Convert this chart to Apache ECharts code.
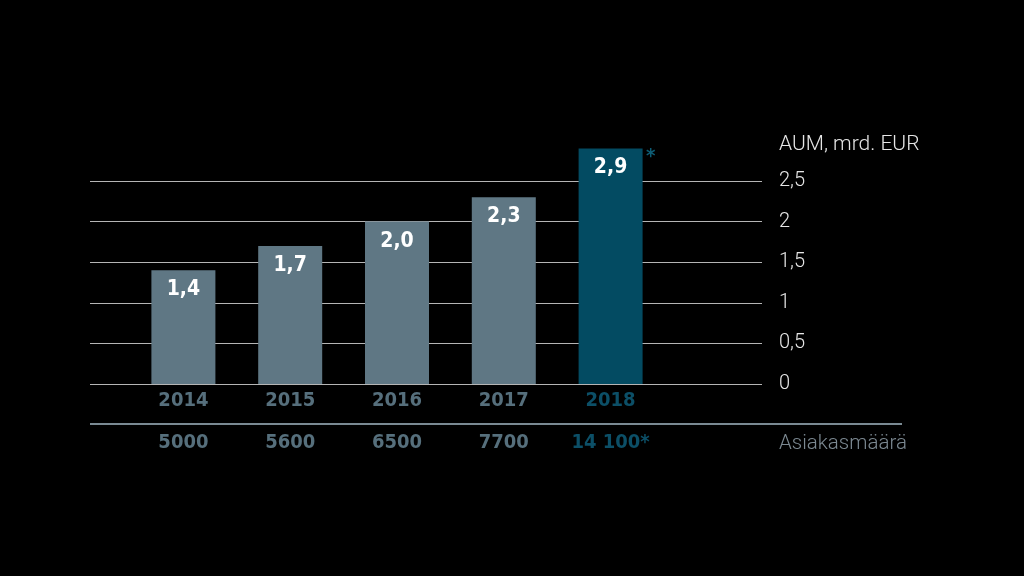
<!DOCTYPE html>
<html><head><meta charset="utf-8">
<script src="https://cdn.jsdelivr.net/npm/echarts@6/dist/echarts.min.js"></script>
<style>html,body{margin:0;padding:0;background:#000;}#c{width:1024px;height:576px;}</style>
</head><body><div id="c"></div>
<script>
const years = ['2014', '2015', '2016', '2017', '2018'];
const aum = [1.4, 1.7, 2.0, 2.3, 2.9];
const customers = ['5000', '5600', '6500', '7700', '14 100*'];
const yTicks = { min: 0, max: 2.5, interval: 0.5 };
const highlightIndex = 4;

const GREY = '#5f7784';
const TEAL = '#034b62';
const COND = '"DejaVu Sans Condensed", "Liberation Sans Narrow", sans-serif';
const LIGHT = 'Roboto, "Helvetica Neue", sans-serif';

const chart = echarts.init(document.getElementById('c'));
const fmt = v => String(v).replace('.', ',');

chart.setOption({
  backgroundColor: '#000',
  animation: false,
  grid: [
    { left: 90, right: 262, top: 181, bottom: 192 },
    { left: 130, right: 360, top: 140.4, bottom: 192 }
  ],
  xAxis: [
    { gridIndex: 0, type: 'value', show: false, min: 0, max: 1 },
    {
      gridIndex: 1, type: 'category', data: years,
      axisLine: { show: false }, axisTick: { show: false },
      axisLabel: {
        margin: 5,
        formatter: (v, i) => {
          const k = i === highlightIndex ? 'h' : 'n';
          return '{y' + k + '|' + v + '}\n{c' + k + '|' + customers[i] + '}';
        },
        rich: {
          yn: { color: '#566f7c', fontFamily: COND, fontWeight: 'bold', fontSize: 20, lineHeight: 24 },
          yh: { color: '#0c4f67', fontFamily: COND, fontWeight: 'bold', fontSize: 20, lineHeight: 24 },
          cn: { color: '#566f7c', fontFamily: COND, fontWeight: 'bold', fontSize: 20, lineHeight: 60 },
          ch: { color: '#0c4f67', fontFamily: COND, fontWeight: 'bold', fontSize: 20, lineHeight: 60 }
        }
      }
    }
  ],
  yAxis: [
    {
      gridIndex: 0, type: 'value', position: 'right',
      min: yTicks.min, max: yTicks.max, interval: yTicks.interval,
      axisLine: { show: false }, axisTick: { show: false },
      axisLabel: { margin: 17, padding: [4, 0, 0, 0], color: '#e6e6e6', fontFamily: LIGHT, fontWeight: 300, fontSize: 20, formatter: fmt },
      splitLine: { show: true, lineStyle: { color: '#b5b5b5', width: 1 } }
    },
    {
      gridIndex: 1, type: 'value', show: false,
      min: 0, max: 3, interval: yTicks.interval,
      splitLine: { show: false }
    }
  ],
  series: [{
    type: 'bar', xAxisIndex: 1, yAxisIndex: 1,
    barWidth: 64,
    data: aum.map((v, i) => ({ value: v, itemStyle: { color: i === highlightIndex ? TEAL : GREY } })),
    label: {
      show: true, position: 'insideTop', distance: 9,
      color: '#ffffff', fontFamily: COND, fontWeight: 'bold', fontSize: 21,
      formatter: p => p.value.toFixed(1).replace('.', ',')
    },
    markPoint: {
      symbol: 'circle', symbolSize: 2,
      itemStyle: { color: 'rgba(0,0,0,0)' },
      data: [{ coord: [highlightIndex, aum[highlightIndex]] }],
      label: { show: true, position: 'inside', formatter: '*', offset: [40, 8], color: '#0e5d75', fontFamily: COND, fontWeight: 'bold', fontSize: 20 }
    }
  }],
  graphic: [
    { type: 'line', shape: { x1: 90, y1: 424, x2: 902, y2: 424 }, style: { stroke: '#7a8a93', lineWidth: 2 } },
    { type: 'text', left: 779, top: 134, style: { text: 'AUM, mrd. EUR', fill: '#e6e6e6', font: '300 21px ' + LIGHT } },
    { type: 'text', left: 779, top: 433, style: { text: 'Asiakasmäärä', fill: '#7c8992', font: '300 20.5px ' + LIGHT } }
  ]
});
</script></body></html>
